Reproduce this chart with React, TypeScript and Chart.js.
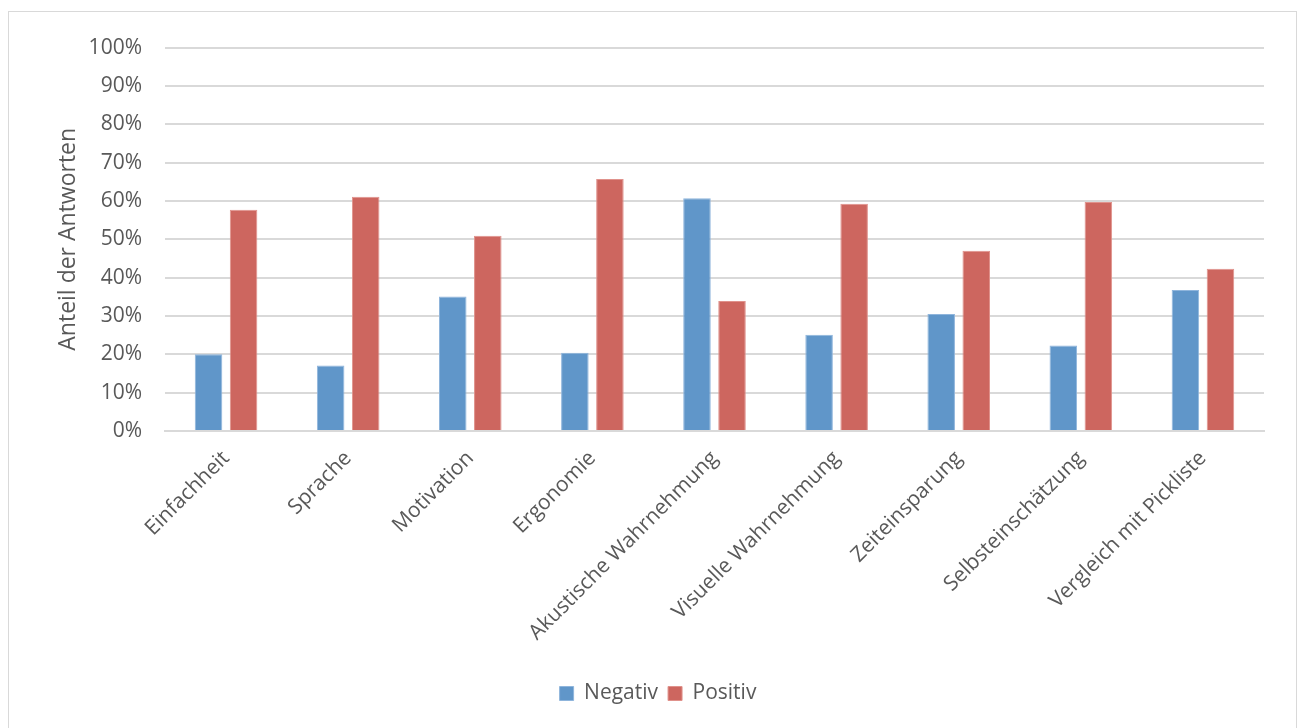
import React, { useEffect, useRef } from "react";
import { Chart, registerables } from "chart.js";

Chart.register(...registerables);

const categories = [
  "Einfachheit",
  "Sprache",
  "Motivation",
  "Ergonomie",
  "Akustische Wahrnehmung",
  "Visuelle Wahrnehmung",
  "Zeiteinsparung",
  "Selbsteinschätzung",
  "Vergleich mit Pickliste",
];
const negativ = [20.0, 17.1, 35.1, 20.4, 60.7, 25.1, 30.5, 22.3, 36.8];
const positiv = [57.7, 61.1, 50.9, 65.7, 33.9, 59.3, 47.0, 59.7, 42.3];
const seriesNames = ["Negativ", "Positiv"];
const yTitle = "Anteil der Antworten";

const FONT = "'Open Sans', 'DejaVu Sans', sans-serif";
const GRAY = "#595959";
const GRID = "#d9d9d9";

export default function App() {
  const ref = useRef<HTMLCanvasElement | null>(null);
  useEffect(() => {
    if (!ref.current) return;
    const chart = new Chart(ref.current, {
      type: "bar",
      data: {
        labels: categories,
        datasets: [
          {
            label: seriesNames[0],
            data: negativ,
            backgroundColor: "#6096C9",
            borderColor: "#8fb5dc",
            borderWidth: 1,
            categoryPercentage: 0.574,
            barPercentage: 0.786,
          },
          {
            label: seriesNames[1],
            data: positiv,
            backgroundColor: "#CD665F",
            borderColor: "#e0928c",
            borderWidth: 1,
            categoryPercentage: 0.574,
            barPercentage: 0.786,
          },
        ],
      },
      options: {
        responsive: false,
        animation: false,
        layout: { padding: { top: 34, right: 32, bottom: 14, left: 43 } },
        plugins: {
          legend: {
            position: "bottom",
            labels: {
              font: { family: FONT, size: 21 },
              color: GRAY,
              boxWidth: 14,
              boxHeight: 14,
              padding: 10,
            },
          },
          tooltip: { enabled: false },
        },
        scales: {
          x: {
            grid: { display: false, drawTicks: false },
            border: { display: true, color: GRID, width: 2 },
            ticks: {
              font: { family: FONT, size: 21 },
              color: GRAY,
              maxRotation: 45,
              minRotation: 45,
              padding: 15,
              autoSkip: false,
            },
            afterFit: (s: any) => {
              s.height = 242;
            },
          },
          y: {
            min: 0,
            max: 100,
            ticks: {
              stepSize: 10,
              font: { family: FONT, size: 21 },
              color: GRAY,
              padding: 23,
              callback: (v: any) => v + "%",
            },
            grid: { color: GRID, lineWidth: 2, drawTicks: false },
            border: { display: false },
            title: {
              display: true,
              text: yTitle,
              font: { family: FONT, size: 23 },
              color: GRAY,
              padding: { top: 3, bottom: 0 },
            },
            afterFit: (s: any) => {
              s.width = 113;
            },
          },
        },
      },
    });
    return () => chart.destroy();
  }, []);
  return (
    <div
      style={{
        position: "absolute",
        left: 8,
        top: 11,
        width: 1287,
        height: 716,
        border: "1px solid #d9d9d9",
        background: "#fff",
      }}
    >
      <canvas ref={ref} width={1287} height={716} style={{ display: "block" }} />
    </div>
  );
}
